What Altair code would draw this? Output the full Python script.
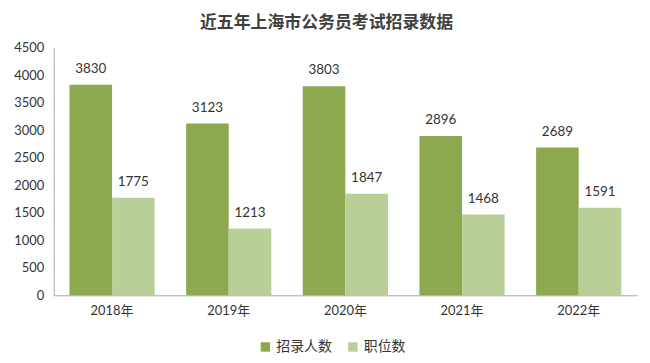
import altair as alt
import pandas as pd

years = ["2018年", "2019年", "2020年", "2021年", "2022年"]
recruits = [3830, 3123, 3803, 2896, 2689]
positions = [1775, 1213, 1847, 1468, 1591]
series = ["招录人数", "职位数"]
colors = ["#8DA950", "#BACF97"]

rows = []
for y, r, p in zip(years, recruits, positions):
    rows.append({"year": y, "series": series[0], "value": r})
    rows.append({"year": y, "series": series[1], "value": p})
df = pd.DataFrame(rows)

font = "Lato, Noto Sans CJK SC"

x = alt.X("year:N", sort=years, title=None,
          scale=alt.Scale(paddingInner=0.27, paddingOuter=0.135),
          axis=alt.Axis(labelAngle=0, ticks=False, domainColor="#A6A6A6",
                        labelFontSize=13, labelColor="#333333", labelFont=font, labelPadding=9))
xo = alt.XOffset("series:N", sort=series, scale=alt.Scale(paddingInner=0, paddingOuter=0))
y = alt.Y("value:Q", title=None,
          scale=alt.Scale(domain=[0, 4500]),
          axis=alt.Axis(values=list(range(0, 5000, 500)), format="d", grid=False, ticks=False,
                        domainColor="#A6A6A6", labelFontSize=13, labelColor="#333333",
                        labelFont=font, labelPadding=10))

base = alt.Chart(df)
bars = base.mark_bar().encode(
    x=x, xOffset=xo, y=y,
    color=alt.Color("series:N", sort=series,
                    scale=alt.Scale(domain=series, range=colors),
                    legend=alt.Legend(title=None, orient="none", direction="horizontal",
                                      legendX=206, legendY=294, symbolType="square",
                                      symbolSize=90, labelFontSize=14, labelFont=font,
                                      labelColor="#333333", columnPadding=14)),
)
labels = base.mark_text(baseline="bottom", dy=-9, fontSize=13.5, font=font, color="#333333").encode(
    x=x, xOffset=xo, y=y, text=alt.Text("value:Q", format="d"),
)

chart = (bars + labels).properties(
    width=587, height=249,
    autosize=alt.AutoSizeParams(type="none"),
    padding={"left": 46, "top": 39, "right": 5, "bottom": 60},
    title=alt.Title("近五年上海市公务员考试招录数据", fontSize=17, fontWeight="bold",
                    font="Noto Sans CJK SC", color="#404040", anchor="middle", dx=-19, offset=10),
).configure_view(stroke=None)

chart.save("out.html", embed_options={"renderer": "svg", "actions": False})
